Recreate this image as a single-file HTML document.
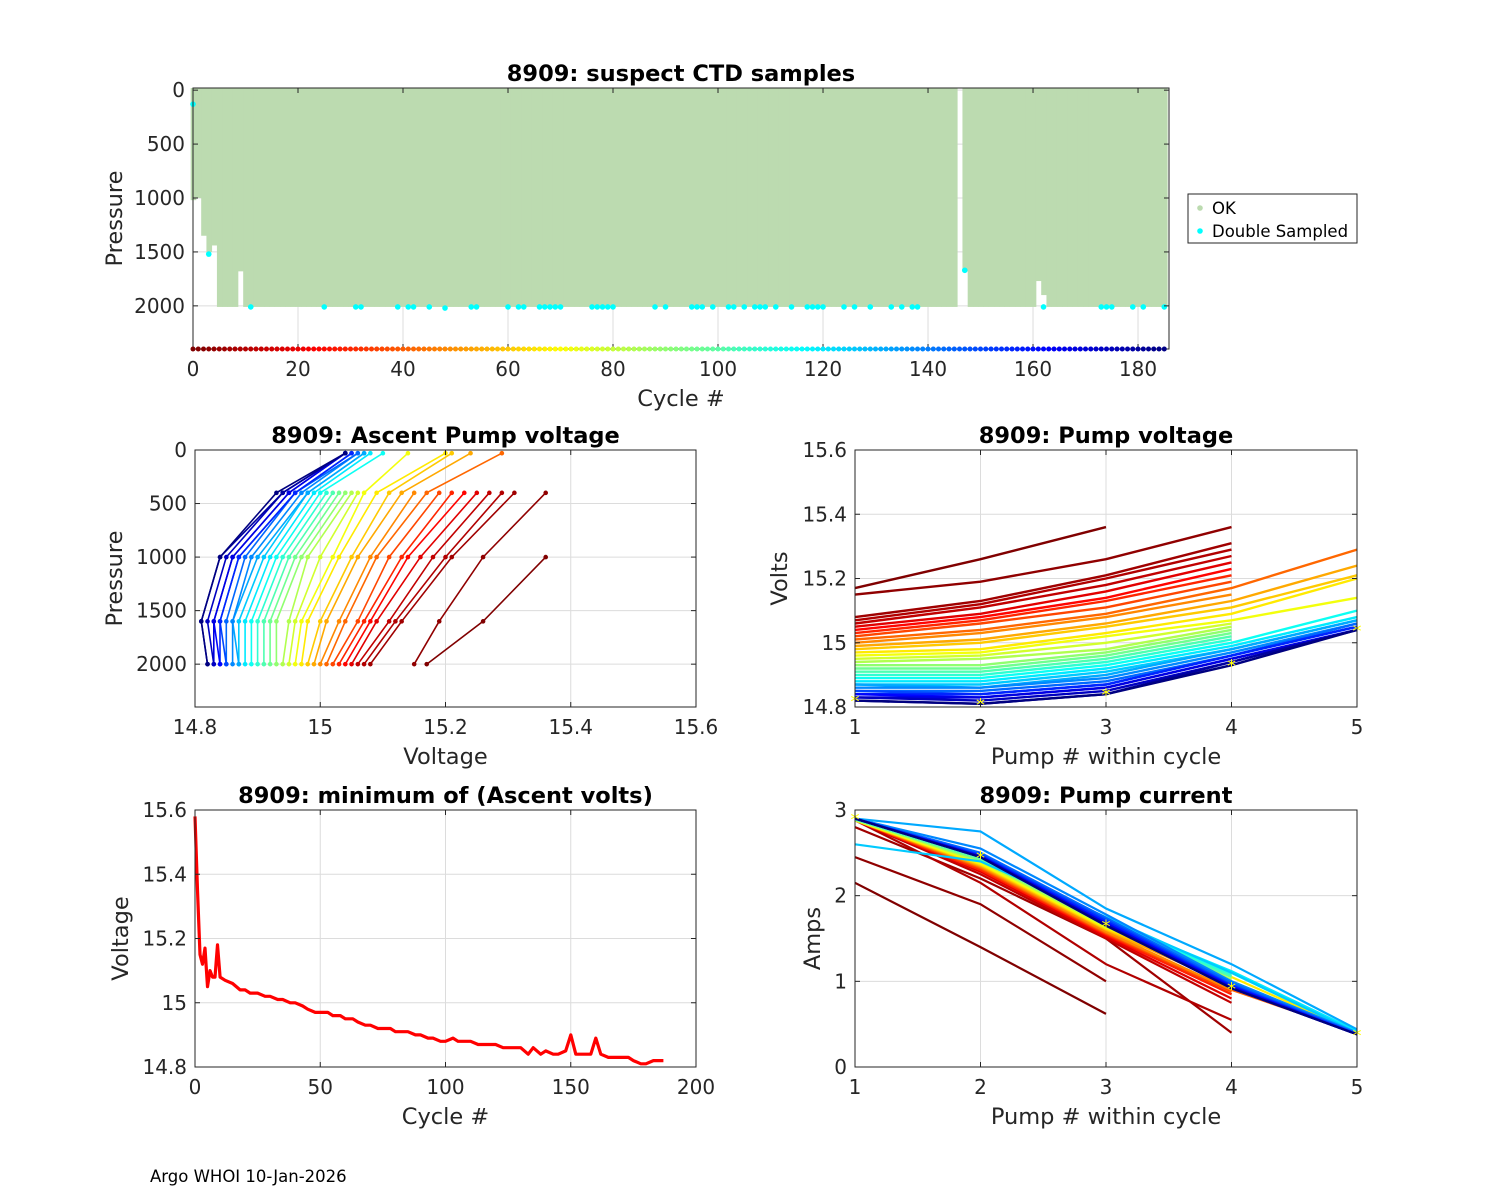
<!DOCTYPE html>
<html><head><meta charset="utf-8">
<style>
body{margin:0;background:#fff;}
svg{display:block;font-family:"DejaVu Sans","Liberation Sans",sans-serif;}
</style></head>
<body>
<svg id="fig" width="1500" height="1200" viewBox="0 0 1500 1200" xmlns="http://www.w3.org/2000/svg">
<rect x="0" y="0" width="1500" height="1200" fill="#fff"/>
<text x="150" y="1182" font-size="16.5" fill="#000">Argo WHOI 10-Jan-2026</text>
</svg>
<script>
// ---------- DATA ----------
const cycleMaxP = [1020,1000,1350,1500,1440,2010,2010,2010,2010,1680,2010,2010,2010,2010,2010,2010,2010,2010,2010,2010,
2010,2010,2010,2010,2010,2010,2010,2010,2010,2010,2010,2010,2010,2010,2010,2010,2010,2010,2010,2010,
2010,2010,2010,2010,2010,2010,2010,2010,2010,2010,2010,2010,2010,2010,2010,2010,2010,2010,2010,2010,
2010,2010,2010,2010,2010,2010,2010,2010,2010,2010,2010,2010,2010,2010,2010,2010,2010,2010,2010,2010,
2010,2010,2010,2010,2010,2010,2010,2010,2010,2010,2010,2010,2010,2010,2010,2010,2010,2010,2010,2010,
2010,2010,2010,2010,2010,2010,2010,2010,2010,2010,2010,2010,2010,2010,2010,2010,2010,2010,2010,2010,
2010,2010,2010,2010,2010,2010,2010,2010,2010,2010,2010,2010,2010,2010,2010,2010,2010,2010,2010,2010,
2010,2010,2010,2010,2010,2010,0,1680,2010,2010,2010,2010,2010,2010,2010,2010,2010,2010,2010,2010,
2010,1770,1900,2010,2010,2010,2010,2010,2010,2010,2010,2010,2010,2010,2010,2010,2010,2010,2010,2010,
2010,2010,2010,2010,2010,2010];
const dblCycles = [0,3,11,25,31,32,39,41,42,45,48,53,54,60,62,63,66,67,68,69,70,76,77,78,79,80,88,90,95,96,97,99,102,103,105,107,108,109,111,114,117,118,119,120,124,126,129,133,135,137,138,147,162,173,174,175,179,181,185];
const dblPress = [130,1520,2010,2010,2010,2010,2010,2010,2010,2010,2020,2010,2010,2010,2010,2010,2010,2010,2010,2010,2010,2010,2010,2010,2010,2010,2010,2010,2010,2010,2010,2010,2010,2010,2010,2010,2010,2010,2010,2010,2010,2010,2010,2010,2010,2010,2010,2010,2010,2010,2010,1670,2010,2010,2010,2010,2010,2010,2010];
const topXTicks = [0,20,40,60,80,100,120,140,160,180];
const pressTicks = [0,500,1000,1500,2000];

const pumpCycles = [0,3,6,9,12,18,24,30,36,42,48,54,60,66,72,78,84,90,96,102,108,114,120,126,132,138,144,150,156,162,168,174,180,186];
const volt1 = [15.17,15.15,15.08,15.07,15.06,15.05,15.04,15.03,15.02,15.01,15.0,14.99,14.98,14.97,14.96,14.95,14.94,14.93,14.92,14.91,14.9,14.89,14.88,14.87,14.87,14.86,14.85,14.85,14.84,14.84,14.83,14.83,14.82,14.82];
const volt2 = [15.26,15.19,15.13,15.12,15.11,15.09,15.08,15.07,15.06,15.04,15.03,15.01,15.0,14.98,14.97,14.96,14.95,14.93,14.92,14.91,14.9,14.89,14.88,14.87,14.86,14.86,14.85,14.84,14.84,14.83,14.83,14.82,14.81,14.81];
const volt3 = [15.36,15.26,15.21,15.2,15.18,15.16,15.14,15.13,15.11,15.09,15.08,15.06,15.05,15.03,15.02,15.0,14.98,14.97,14.96,14.95,14.94,14.93,14.92,14.91,14.9,14.89,14.88,14.87,14.87,14.86,14.86,14.85,14.84,14.84];
const volt4 = [null,15.36,15.31,15.29,15.27,15.25,15.23,15.21,15.19,15.17,15.15,15.13,15.11,15.09,15.07,15.06,15.05,15.04,15.03,15.02,15.01,15.0,14.99,14.98,14.98,14.97,14.96,14.96,14.96,14.95,14.95,14.94,14.94,14.93];
const volt5 = [null,null,null,null,null,null,null,null,null,15.29,null,15.24,15.21,15.2,15.14,null,null,null,null,null,null,15.1,15.08,15.07,15.07,15.06,15.06,15.05,15.05,15.04,15.04,15.04,15.04,15.04];
const amp1 = [2.15,2.45,2.8,2.88,2.88,2.88,2.88,2.88,2.88,2.88,2.88,2.88,2.88,2.88,2.88,2.88,2.89,2.89,2.89,2.89,2.9,2.9,2.9,2.6,2.9,2.9,2.9,2.9,2.9,2.9,2.9,2.9,2.9,2.9];
const amp2 = [1.4,1.9,2.2,2.15,2.25,2.28,2.3,2.3,2.32,2.33,2.34,2.35,2.36,2.37,2.38,2.4,2.4,2.42,2.42,2.44,2.45,2.46,2.46,2.4,2.75,2.55,2.5,2.48,2.47,2.46,2.46,2.45,2.45,2.45];
const amp3 = [0.62,1.0,1.5,1.2,1.5,1.52,1.54,1.55,1.56,1.57,1.58,1.6,1.61,1.62,1.63,1.64,1.65,1.66,1.67,1.68,1.7,1.72,1.72,1.75,1.85,1.78,1.74,1.72,1.7,1.68,1.67,1.66,1.65,1.65];
const amp4 = [null,null,0.4,0.55,0.75,0.8,0.85,0.85,0.88,0.9,0.9,0.95,1.0,1.05,1.1,1.0,1.02,1.05,1.05,1.06,1.08,1.1,1.12,1.1,1.2,1.0,0.98,0.96,0.95,0.94,0.93,0.92,0.92,0.92];
const amp5 = [null,null,null,null,null,null,null,null,null,0.4,null,0.4,0.4,0.4,0.4,null,null,null,null,null,null,0.4,0.42,0.4,0.44,0.4,0.39,0.39,0.38,0.38,0.38,0.38,0.38,0.38];
const pumpPress = [2000,1600,1000,400,30];

const minCycles = [0,1,2,3,4,5,6,7,8,9,10,12,15,18,20,22,25,28,30,33,35,38,40,43,45,48,50,53,55,58,60,63,65,68,70,73,75,78,80,83,85,88,90,93,95,98,100,103,105,108,110,113,115,118,120,123,125,128,130,133,135,138,140,143,145,148,150,152,155,158,160,162,165,168,170,173,175,178,180,183,185,187];
const minVolts = [15.58,15.35,15.15,15.12,15.17,15.05,15.1,15.08,15.08,15.18,15.08,15.07,15.06,15.04,15.04,15.03,15.03,15.02,15.02,15.01,15.01,15.0,15.0,14.99,14.98,14.97,14.97,14.97,14.96,14.96,14.95,14.95,14.94,14.93,14.93,14.92,14.92,14.92,14.91,14.91,14.91,14.9,14.9,14.89,14.89,14.88,14.88,14.89,14.88,14.88,14.88,14.87,14.87,14.87,14.87,14.86,14.86,14.86,14.86,14.84,14.86,14.84,14.85,14.84,14.84,14.85,14.9,14.84,14.84,14.84,14.89,14.84,14.83,14.83,14.83,14.83,14.82,14.81,14.81,14.82,14.82,14.82];

// ---------- DRAW ----------
const NS = "http://www.w3.org/2000/svg";
const svg = document.getElementById('fig');
function el(tag, attrs, parent){const e=document.createElementNS(NS,tag);for(const k in attrs)e.setAttribute(k,attrs[k]);(parent||svg).appendChild(e);return e;}
function jet(t){const c=v=>Math.round(255*Math.max(0,Math.min(1,v)));return `rgb(${c(1.5-Math.abs(4*t-3))},${c(1.5-Math.abs(4*t-2))},${c(1.5-Math.abs(4*t-1))})`;}
function cycColor(c){return jet(1-c/186);}
function scale(d0,d1,r0,r1){return v=>r0+(v-d0)/(d1-d0)*(r1-r0);}

function makeAxes(name,box,xd,yd,xt,yt,xtl,ytl,title,xlabel,ylabel,ylabelX,invertY){
  const g=el('g',{});
  
  
  const X=scale(xd[0],xd[1],box.x,box.x+box.w);
  const Y=invertY?scale(yd[0],yd[1],box.y,box.y+box.h):scale(yd[0],yd[1],box.y+box.h,box.y);
  el('rect',{x:box.x,y:box.y,width:box.w,height:box.h,fill:'#fff'},g);
  const grid=el('g',{stroke:'#dcdcdc','stroke-width':1},g);
  
  
  xt.forEach(v=>el('line',{x1:X(v),x2:X(v),y1:box.y,y2:box.y+box.h},grid));
  yt.forEach(v=>el('line',{x1:box.x,x2:box.x+box.w,y1:Y(v),y2:Y(v)},grid));
  const plot=el('g',{},g);
  
  
  const over=el('g',{},g);
  el('rect',{x:box.x,y:box.y,width:box.w,height:box.h,fill:'none',stroke:'#262626','stroke-width':1},over);
  xt.forEach((v,i)=>{
    el('line',{x1:X(v),x2:X(v),y1:box.y+box.h,y2:box.y+box.h-5,stroke:'#262626'},over);
    el('line',{x1:X(v),x2:X(v),y1:box.y,y2:box.y+5,stroke:'#262626'},over);
    const t=el('text',{x:X(v),y:box.y+box.h+27,'font-size':20,'text-anchor':'middle',fill:'#262626'},over);
    t.textContent=xtl[i];
    
    
  });
  yt.forEach((v,i)=>{
    el('line',{x1:box.x,x2:box.x+5,y1:Y(v),y2:Y(v),stroke:'#262626'},over);
    el('line',{x1:box.x+box.w,x2:box.x+box.w-5,y1:Y(v),y2:Y(v),stroke:'#262626'},over);
    const t=el('text',{x:box.x-8,y:Y(v)+7,'font-size':20,'text-anchor':'end',fill:'#262626'},over);
    t.textContent=ytl[i];
    
    
  });
  const tt=el('text',{x:box.x+box.w/2,y:box.y-7,'font-size':22.5,'font-weight':'bold','text-anchor':'middle',fill:'#000'},over);
  tt.textContent=title;
  
  
  const xl=el('text',{x:box.x+box.w/2,y:box.y+box.h+57,'font-size':22.5,'text-anchor':'middle',fill:'#262626'},over);
  xl.textContent=xlabel;
  
  
  const cy=box.y+box.h/2;
  const yl=el('text',{x:ylabelX,y:cy,'font-size':22.5,'text-anchor':'middle',fill:'#262626',transform:`rotate(-90 ${ylabelX} ${cy})`},over);
  yl.textContent=ylabel;
  
  
  return {X,Y,plot,over,g};
}
function line(pts,attrs,parent){return el('polyline',Object.assign({points:pts.map(p=>p[0].toFixed(1)+','+p[1].toFixed(1)).join(' '),fill:'none'},attrs),parent);}

// ---- Top
(function(){
  const A=makeAxes('ctd-samples-chart',{x:193,y:88,w:976,h:261},[0,185.9],[-20,2400],topXTicks,pressTicks,topXTicks.map(String),pressTicks.map(String),'8909: suspect CTD samples','Cycle #','Pressure',122,true);
  const bw=A.X(1)-A.X(0);
  cycleMaxP.forEach((p,c)=>{
    if(!p)return;
    const r=el('rect',{x:A.X(c)-bw/2+0.3,y:A.Y(-20),width:bw+0.4,height:A.Y(p)-A.Y(-20),fill:'#bcdbb0'},A.plot);
    
    
  });
  dblCycles.forEach((c,i)=>{
    const d=el('circle',{cx:A.X(c),cy:A.Y(dblPress[i]),r:2.8,fill:'#00ffff'},A.plot);
    
    
  });
  cycleMaxP.forEach((p,c)=>{
    const d=el('circle',{cx:A.X(c),cy:A.Y(2400),r:2.5,fill:cycColor(c)},A.over);
    
    
  });
  const lg=el('g',{});
  
  
  el('rect',{x:1188,y:194,width:169,height:49,fill:'#fff',stroke:'#262626'},lg);
  el('circle',{cx:1200,cy:208,r:2.8,fill:'#bcdbb0'},lg);
  el('circle',{cx:1200,cy:231,r:2.8,fill:'#00ffff'},lg);
  const t1=el('text',{x:1212,y:214,'font-size':16.5,fill:'#000'},lg);t1.textContent='OK';
  
  
  const t2=el('text',{x:1212,y:237,'font-size':16.5,fill:'#000'},lg);t2.textContent='Double Sampled';
  
  
})();

// ---- Mid-left
(function(){
  const xt=[14.8,15,15.2,15.4,15.6];
  const A=makeAxes('ascent-pump-voltage-chart',{x:195,y:450,w:501,h:257},[14.8,15.6],[0,2400],xt,pressTicks,['14.8','15','15.2','15.4','15.6'],pressTicks.map(String),'8909: Ascent Pump voltage','Voltage','Pressure',122,true);
  const arrs=[volt1,volt2,volt3,volt4,volt5];
  pumpCycles.forEach((c,i)=>{
    const pts=[];arrs.forEach((a,k)=>{if(a[i]!==null)pts.push([A.X(a[i]),A.Y(pumpPress[k])]);});
    const col=cycColor(c);
    const l=line(pts,{stroke:col,'stroke-width':1.6},A.plot);
    
    
    pts.forEach(p=>el('circle',{cx:p[0],cy:p[1],r:2.3,fill:col},A.plot));
  });
})();

// ---- Mid-right
(function(){
  const xt=[1,2,3,4,5],yt=[14.8,15,15.2,15.4,15.6];
  const A=makeAxes('pump-voltage-chart',{x:855,y:450,w:502,h:257},[1,5],[14.8,15.6],xt,yt,xt.map(String),['14.8','15','15.2','15.4','15.6'],'8909: Pump voltage','Pump # within cycle','Volts',787,false);
  const arrs=[volt1,volt2,volt3,volt4,volt5];
  pumpCycles.forEach((c,i)=>{
    const pts=[];arrs.forEach((a,k)=>{if(a[i]!==null)pts.push([A.X(k+1),A.Y(a[i])]);});
    const l=line(pts,{stroke:cycColor(c),'stroke-width':2.4},A.plot);
    
    
  });
  const last=pumpCycles.length-1;
  arrs.forEach((a,k)=>{if(a[last]!==null){const s=el('text',{x:A.X(k+1),y:A.Y(a[last])+7,'font-size':18,'text-anchor':'middle',fill:'#ffff00'},A.plot);s.textContent='*';}});
})();

// ---- Bottom-left
(function(){
  const xt=[0,50,100,150,200],yt=[14.8,15,15.2,15.4,15.6];
  const A=makeAxes('min-ascent-volts-chart',{x:195,y:810,w:501,h:257},[0,200],[14.8,15.6],xt,yt,xt.map(String),['14.8','15','15.2','15.4','15.6'],'8909: minimum of (Ascent volts)','Cycle #','Voltage',128,false);
  const l=line(minCycles.map((c,i)=>[A.X(c),A.Y(minVolts[i])]),{stroke:'#ff0000','stroke-width':3.2,'stroke-linejoin':'round'},A.plot);
  
  
})();

// ---- Bottom-right
(function(){
  const xt=[1,2,3,4,5],yt=[0,1,2,3];
  const A=makeAxes('pump-current-chart',{x:855,y:810,w:502,h:257},[1,5],[0,3],xt,yt,xt.map(String),yt.map(String),'8909: Pump current','Pump # within cycle','Amps',820,false);
  const arrs=[amp1,amp2,amp3,amp4,amp5];
  pumpCycles.forEach((c,i)=>{
    const pts=[];arrs.forEach((a,k)=>{if(a[i]!==null)pts.push([A.X(k+1),A.Y(a[i])]);});
    const l=line(pts,{stroke:cycColor(c),'stroke-width':2.2},A.plot);
    
    
  });
  const last=pumpCycles.length-1;
  arrs.forEach((a,k)=>{if(a[last]!==null){const s=el('text',{x:A.X(k+1),y:A.Y(a[last])+7,'font-size':18,'text-anchor':'middle',fill:'#ffff00'},A.plot);s.textContent='*';}});
})();
</script>
</body></html>
